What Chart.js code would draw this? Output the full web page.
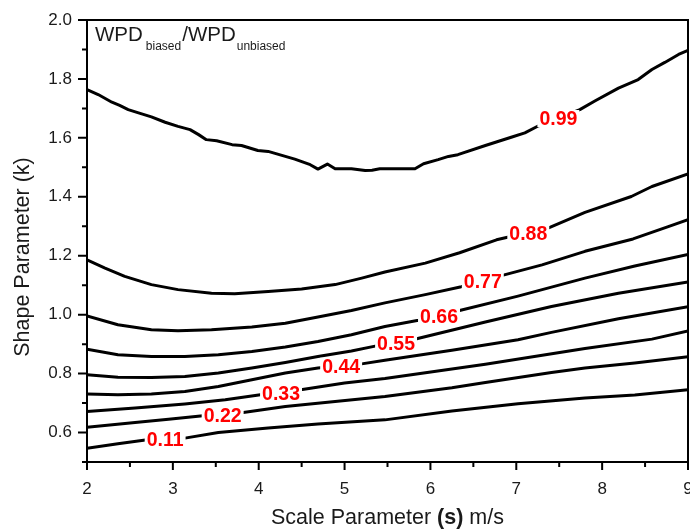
<!DOCTYPE html>
<html>
<head>
<meta charset="utf-8">
<title>WPD ratio contours</title>
<script src="https://cdn.jsdelivr.net/npm/chart.js@4.4.1/dist/chart.umd.min.js"></script>
<style>
  html, body { margin: 0; padding: 0; background: #fff; overflow: hidden; }
  #wrap { width: 700px; height: 529px; }
</style>
</head>
<body>
<div id="wrap"><canvas id="wpdChart" width="700" height="529"></canvas></div>
<script>
// contour lines of WPD_biased / WPD_unbiased, points are [scale s, shape k]
const k011 = [[2.00,0.547],[2.36,0.562],[2.68,0.575],[3.14,0.581],[3.53,0.600],[4.11,0.615],[4.69,0.629],[5.47,0.643],[6.25,0.673],[7.02,0.698],[7.80,0.717],[8.38,0.727],[9.00,0.745]];
const k022 = [[2.00,0.618],[2.56,0.634],[2.95,0.645],[3.35,0.657],[3.82,0.668],[4.31,0.688],[4.89,0.705],[5.47,0.722],[6.25,0.752],[6.64,0.770],[7.41,0.804],[7.80,0.819],[8.38,0.836],[9.00,0.857]];
const k033 = [[2.00,0.671],[2.56,0.683],[3.14,0.697],[3.61,0.711],[4.02,0.728],[4.49,0.745],[5.00,0.768],[5.47,0.783],[6.64,0.832],[7.80,0.885],[8.58,0.917],[9.00,0.945]];
const k044 = [[2.00,0.731],[2.36,0.728],[2.75,0.731],[3.14,0.739],[3.53,0.756],[3.92,0.779],[4.31,0.802],[4.69,0.819],[5.20,0.833],[5.47,0.845],[6.25,0.879],[7.02,0.915],[7.41,0.940],[8.19,0.986],[9.00,1.027]];
const k055 = [[2.00,0.796],[2.36,0.788],[2.75,0.787],[3.14,0.790],[3.53,0.802],[3.92,0.819],[4.31,0.838],[4.69,0.858],[5.08,0.877],[5.37,0.894],[5.84,0.918],[6.64,0.975],[7.41,1.028],[8.19,1.073],[9.00,1.111]];
const k066 = [[2.00,0.883],[2.36,0.864],[2.75,0.858],[3.14,0.858],[3.53,0.864],[3.92,0.875],[4.31,0.890],[4.69,0.909],[5.08,0.932],[5.47,0.960],[5.86,0.981],[6.34,1.014],[7.02,1.063],[7.80,1.124],[8.38,1.165],[9.00,1.204]];
const k077 = [[2.00,0.996],[2.36,0.966],[2.75,0.949],[3.06,0.945],[3.45,0.949],[3.92,0.958],[4.31,0.971],[4.69,0.992],[5.08,1.014],[5.47,1.040],[5.94,1.068],[6.36,1.095],[6.86,1.135],[7.30,1.169],[7.80,1.215],[8.36,1.257],[8.77,1.299],[9.00,1.322]];
const k088 = [[2.00,1.186],[2.21,1.158],[2.44,1.130],[2.75,1.102],[3.06,1.085],[3.45,1.073],[3.72,1.071],[4.11,1.079],[4.50,1.087],[4.89,1.102],[5.20,1.124],[5.47,1.145],[5.94,1.175],[6.34,1.210],[6.77,1.254],[7.37,1.294],[7.80,1.347],[8.34,1.401],[8.58,1.435],[9.00,1.478]];
const k099 = [[2.00,1.764],[2.13,1.747],[2.29,1.721],[2.38,1.710],[2.48,1.696],[2.60,1.685],[2.75,1.671],[2.91,1.653],[3.06,1.639],[3.20,1.628],[3.30,1.611],[3.39,1.594],[3.51,1.590],[3.69,1.577],[3.80,1.574],[3.99,1.557],[4.11,1.554],[4.31,1.537],[4.42,1.528],[4.60,1.509],[4.69,1.494],[4.80,1.511],[4.89,1.495],[5.08,1.495],[5.24,1.489],[5.32,1.490],[5.41,1.495],[5.82,1.495],[5.92,1.512],[6.09,1.526],[6.21,1.537],[6.32,1.543],[6.64,1.574],[6.95,1.603],[7.10,1.617],[7.26,1.641],[7.74,1.696],[7.92,1.726],[8.19,1.769],[8.42,1.798],[8.58,1.832],[8.73,1.856],[8.89,1.883],[9.00,1.897]];

const contours = [k011, k022, k033, k044, k055, k066, k077, k088, k099];
const levels = ['0.11', '0.22', '0.33', '0.44', '0.55', '0.66', '0.77', '0.88', '0.99'];
// where along s each level label sits on its line
const labelX = [2.91, 3.58, 4.26, 4.96, 5.60, 6.10, 6.61, 7.14, 7.49];

const FONT = '"Liberation Sans", Arial, Helvetica, sans-serif';

// k of a contour at a given s (straight between neighbouring points)
function lineAt(pts, s) {
  for (let i = 1; i < pts.length; i++) {
    if (s <= pts[i][0]) {
      const [x0, y0] = pts[i - 1], [x1, y1] = pts[i];
      return y0 + (y1 - y0) * (s - x0) / (x1 - x0);
    }
  }
  return pts[pts.length - 1][1];
}

const isMajorX = v => Math.abs(v - Math.round(v)) < 1e-6;
const isMajorY = v => { const t = Math.round(v * 10); return t % 2 === 0 && t >= 6; };

const contourText = {
  id: 'contourText',
  afterDatasetsDraw(chart) {
    const { ctx, scales: { x, y } } = chart;
    ctx.save();
    ctx.font = 'bold 19.5px ' + FONT;
    ctx.textAlign = 'center';
    ctx.textBaseline = 'middle';
    contours.forEach((pts, i) => {
      const s = labelX[i];
      const px = x.getPixelForValue(s);
      const py = y.getPixelForValue(lineAt(pts, s));
      const w = ctx.measureText(levels[i]).width + 4;
      ctx.fillStyle = '#fff';
      ctx.fillRect(px - w / 2, py - 8, w, 17);
      ctx.fillStyle = '#ff0000';
      ctx.fillText(levels[i], px, py + 2);
    });
    ctx.restore();
  },
  afterDraw(chart) {
    const { ctx, chartArea: a, scales: { x, y } } = chart;
    ctx.save();
    // frame
    ctx.strokeStyle = '#000';
    ctx.lineWidth = 2;
    ctx.strokeRect(a.left, a.top, a.right - a.left, a.bottom - a.top);
    // tick marks, long on labelled values
    ctx.beginPath();
    x.ticks.forEach(t => {
      const px = x.getPixelForValue(t.value);
      ctx.moveTo(px, a.bottom);
      ctx.lineTo(px, a.bottom + (isMajorX(t.value) ? 8 : 5));
    });
    y.ticks.forEach(t => {
      const py = y.getPixelForValue(t.value);
      ctx.moveTo(a.left, py);
      ctx.lineTo(a.left - (isMajorY(t.value) ? 9 : 5), py);
    });
    ctx.stroke();

    ctx.fillStyle = '#1a1a1a';
    ctx.textBaseline = 'alphabetic';

    // x title with bold symbol
    const parts = [['Scale Parameter ', ''], ['(s)', 'bold '], [' m/s', '']];
    let total = 0;
    parts.forEach(p => { ctx.font = p[1] + '21.5px ' + FONT; total += ctx.measureText(p[0]).width; });
    let cx = (a.left + a.right) / 2 - total / 2;
    ctx.textAlign = 'left';
    parts.forEach(p => {
      ctx.font = p[1] + '21.5px ' + FONT;
      ctx.fillText(p[0], cx, 524);
      cx += ctx.measureText(p[0]).width;
    });

    // y title
    ctx.save();
    ctx.translate(29, 257);
    ctx.rotate(-Math.PI / 2);
    ctx.textAlign = 'center';
    ctx.font = '21.5px ' + FONT;
    ctx.fillText('Shape Parameter (k)', 0, 0);
    ctx.restore();

    // ratio name in the corner
    let tx = a.left + 8;
    const seg = [['WPD', 20.5, 41], ['biased', 12, 50], ['/WPD', 20.5, 41], ['unbiased', 12, 50]];
    const gap = [3, 1, 1, 0];
    seg.forEach((g, i) => {
      ctx.font = g[1] + 'px ' + FONT;
      ctx.fillText(g[0], tx, g[2]);
      tx += ctx.measureText(g[0]).width + gap[i];
    });
    ctx.restore();
  }
};

const datasets = contours.map((pts, i) => ({
  label: levels[i],
  data: pts.map(p => ({ x: p[0], y: p[1] })),
  borderColor: '#000',
  borderWidth: 3,
  pointRadius: 0,
  tension: 0,
  fill: false,
  borderJoinStyle: 'round',
  borderCapStyle: 'round'
}));

new Chart(document.getElementById('wpdChart'), {
  type: 'line',
  data: { datasets },
  options: {
    responsive: false,
    animation: false,
    events: [],
    layout: { padding: { left: 0, right: 12, top: 20, bottom: 0 } },
    plugins: { legend: { display: false }, tooltip: { enabled: false } },
    scales: {
      x: {
        type: 'linear',
        min: 2, max: 9,
        grid: { display: false, drawTicks: false },
        border: { display: false },
        ticks: {
          stepSize: 0.5,
          autoSkip: false,
          maxRotation: 0,
          padding: 17,
          color: '#1a1a1a',
          font: { family: FONT, size: 17 },
          callback: v => isMajorX(v) ? String(Math.round(v)) : ''
        },
        afterFit: s => { s.height = 67; s.paddingLeft = 0; s.paddingRight = 0; }
      },
      y: {
        type: 'linear',
        min: 0.5, max: 2.0,
        grid: { display: false, drawTicks: false },
        border: { display: false },
        ticks: {
          stepSize: 0.1,
          autoSkip: false,
          padding: 15,
          color: '#1a1a1a',
          font: { family: FONT, size: 17 },
          callback: v => isMajorY(v) ? (Math.round(v * 10) / 10).toFixed(1) : ''
        },
        afterFit: s => { s.width = 87; s.paddingTop = 0; s.paddingBottom = 0; }
      }
    }
  },
  plugins: [contourText]
});
</script>
</body>
</html>
